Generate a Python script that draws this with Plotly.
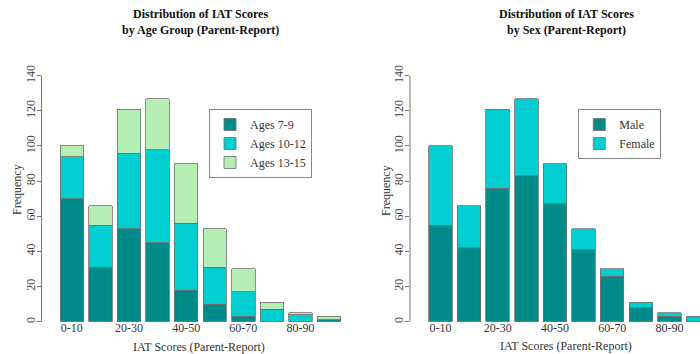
import plotly.graph_objects as go

bins = ["0-10", "10-20", "20-30", "30-40", "40-50", "50-60", "60-70", "70-80", "80-90", "90-100"]
shown_labels = ["0-10", "20-30", "40-50", "60-70", "80-90"]

ages_7_9 = [70, 31, 53, 45, 18, 10, 3, 0, 0, 1]
ages_10_12 = [24, 24, 43, 53, 38, 21, 14, 7, 4, 0]
ages_13_15 = [6, 11, 25, 29, 34, 22, 13, 4, 1, 2]

male = [55, 42, 76, 83, 67, 41, 26, 8, 3, 0]
female = [45, 24, 45, 44, 23, 12, 4, 3, 2, 3]

y_ticks = [0, 20, 40, 60, 80, 100, 120, 140]

C_DARK = "#008B8B"
C_CYAN = "#00CED1"
C_GREEN = "#B4EEB4"
EDGE = "#6f6f6f"
FONT = "Liberation Serif"

W, H = 700, 354

def px(x):
    return x / W

def py(y):
    return 1 - y / H

fig = go.Figure()

for name, vals, col in [("Ages 7-9", ages_7_9, C_DARK), ("Ages 10-12", ages_10_12, C_CYAN), ("Ages 13-15", ages_13_15, C_GREEN)]:
    fig.add_trace(go.Bar(x=bins, y=vals, name=name, marker=dict(color=col, line=dict(color=EDGE, width=0.8)),
                         xaxis="x", yaxis="y", legend="legend"))

for name, vals, col in [("Male", male, C_DARK), ("Female", female, C_CYAN)]:
    fig.add_trace(go.Bar(x=bins, y=vals, name=name, marker=dict(color=col, line=dict(color=EDGE, width=0.8)),
                         xaxis="x2", yaxis="y2", legend="legend2"))

ydom = [py(321.7), py(65.86)]
yax = dict(range=[0, 145.6], domain=ydom, tickvals=y_ticks, ticks="outside", ticklen=4, tickcolor="#777",
           tickangle=-90, showgrid=False, zeroline=False, showline=False, automargin=False,
           ticklabelstandoff=-3,
           tickfont=dict(family=FONT, size=12, color="#444"))
xax = dict(type="category", showgrid=False, zeroline=False, showline=False, ticks="", automargin=False,
           tickvals=shown_labels, ticktext=shown_labels, ticklabelstandoff=-3,
           tickfont=dict(family=FONT, size=12, color="#333"))

fig.update_layout(
    width=W, height=H,
    margin=dict(l=0, r=0, t=0, b=0, autoexpand=False),
    paper_bgcolor="white", plot_bgcolor="white",
    barmode="stack", bargap=0.18,
    showlegend=True,
    xaxis=dict(xax, domain=[px(41.5), px(354)], range=[-1.06, 9.87], anchor="y"),
    yaxis=dict(yax, anchor="x"),
    xaxis2=dict(xax, domain=[px(410), 1.0], range=[-1.066, 9.07], anchor="y2"),
    yaxis2=dict(yax, anchor="x2"),
    legend=dict(x=px(209), y=py(109), xanchor="left", yanchor="top", traceorder="normal",
                bordercolor="#888", borderwidth=1, bgcolor="white", tracegroupgap=0,
                font=dict(family=FONT, size=12, color="#333"), itemwidth=30),
    legend2=dict(x=px(578.3), y=py(109), xanchor="left", yanchor="top", traceorder="normal",
                 bordercolor="#888", borderwidth=1, bgcolor="white", tracegroupgap=0,
                 font=dict(family=FONT, size=12, color="#333"), itemwidth=30),
)

# R-style y axis lines spanning 0..140
for xpos, yref in [(41.5, "y"), (410, "y2")]:
    fig.add_shape(type="line", xref="paper", yref=yref, x0=px(xpos), x1=px(xpos), y0=0, y1=140,
                  line=dict(color="#777", width=1))

anns = [
    (200, 21.5, "Distribution of IAT Scores<br>by Age Group (Parent-Report)", True, 0),
    (566.5, 21.5, "Distribution of IAT Scores<br>by Sex (Parent-Report)", True, 0),
    (198.5, 346.5, "IAT Scores (Parent-Report)", False, 0),
    (566, 345.5, "IAT Scores (Parent-Report)", False, 0),
    (17, 190, "Frequency", False, -90),
    (386, 190, "Frequency", False, -90),
]
for x, y, text, bold, ang in anns:
    fig.add_annotation(xref="paper", yref="paper", x=px(x), y=py(y), text=f"<b>{text}</b>" if bold else text,
                       showarrow=False, xanchor="center", yanchor="middle", textangle=ang,
                       font=dict(family=FONT, size=12, color="#111" if bold else "#333"))

fig.write_html("out.html", config={"displayModeBar": False},
               post_script="document.body.style.margin='0';document.body.style.overflow='hidden';")
